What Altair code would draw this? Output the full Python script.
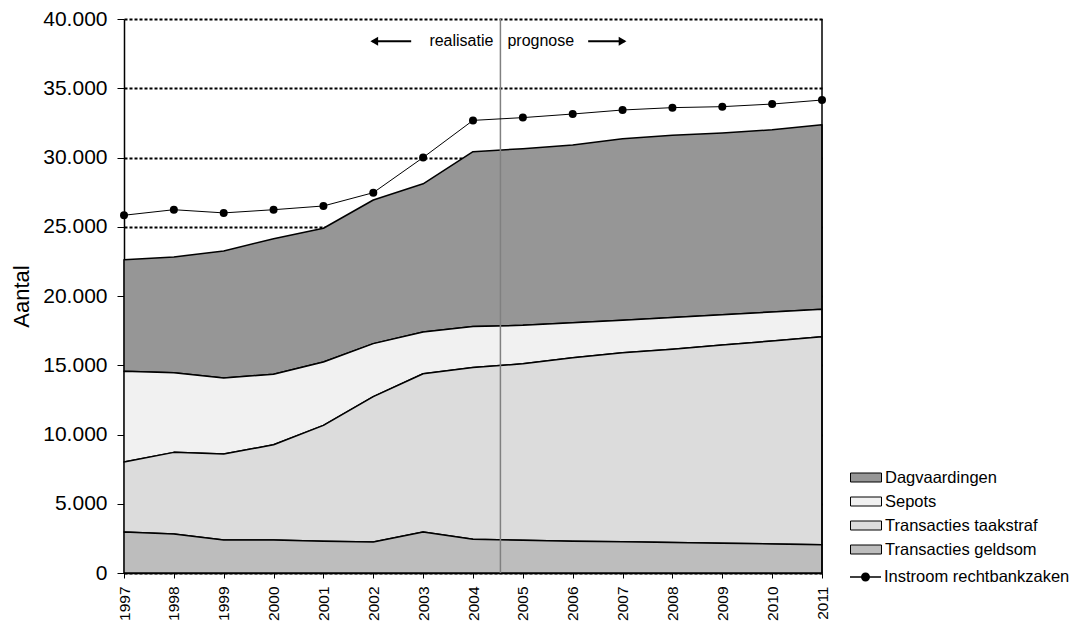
import altair as alt
import pandas as pd

# ---------------- data ----------------
years = list(range(1997, 2012))
dagvaardingen = [8060, 8360, 9170, 9790, 9660, 10370, 10700, 12620, 12760, 12830, 13110, 13150, 13120, 13150, 13330]
sepots = [6550, 5750, 5490, 5090, 4570, 3830, 3010, 2970, 2770, 2520, 2340, 2300, 2190, 2100, 1980]
taakstraf = [5050, 5890, 6210, 6880, 8370, 10490, 11430, 12400, 12750, 13250, 13660, 13950, 14310, 14650, 15020]
geldsom = [2960, 2820, 2380, 2380, 2290, 2240, 2960, 2430, 2360, 2300, 2250, 2200, 2150, 2100, 2040]
instroom = [25830, 26230, 26000, 26230, 26500, 27460, 30000, 32680, 32880, 33140, 33430, 33600, 33670, 33860, 34150]

series_names = ["Dagvaardingen", "Sepots", "Transacties taakstraf", "Transacties geldsom"]
series_values = [dagvaardingen, sepots, taakstraf, geldsom]
line_name = "Instroom rechtbankzaken"
y_ticks = list(range(0, 40001, 5000))
split_year = 2004.55
annot_labels = ["realisatie", "prognose"]

# ---------------- tables ----------------
rows = []
for k, (name, vals) in enumerate(zip(series_names, series_values)):
    for yr, v in zip(years, vals):
        rows.append({"jaar": yr, "serie": name, "waarde": v, "volgorde": len(series_names) - k})
area_df = pd.DataFrame(rows)
line_df = pd.DataFrame({"jaar": years, "waarde": instroom, "serie": [line_name] * len(years)})

FONT = "Liberation Sans"
fill_colors = ["#969696", "#f1f1f1", "#dcdcdc", "#bdbdbd"]
W, H = 698, 554

x_scale = alt.Scale(domain=[1997, 2011], nice=False, zero=False)
y_scale = alt.Scale(domain=[0, 40000], nice=False)

x_enc = alt.X(
    "jaar:Q",
    scale=x_scale,
    axis=alt.Axis(
        values=years, format="d", labelAngle=-90, title=None, grid=False,
        labelFontSize=15.5, labelPadding=8, tickSize=5, labelFlush=False,
        labelOverlap=False,
    ),
)
y_axis = alt.Axis(
    values=y_ticks,
    labelExpr="replace(format(datum.value, ','), ',', '.')",
    title="Aantal", titleFontSize=22, titleFontWeight="normal", titlePadding=9,
    labelFontSize=21, labelPadding=10, tickSize=7,
    grid=True, gridColor="black", gridDash=[3, 2], gridWidth=2, gridOpacity=1,
    labelFlush=False,
)

rect_path = "M-1.55,-0.45H1.55V0.45H-1.55Z"
line_dot_path = ("M-1.55,-0.07H1.55V0.07H-1.55Z "
                 "M0.45,0A0.45,0.45 0 1,1 -0.45,0A0.45,0.45 0 1,1 0.45,0Z")

LEG_X = 731.5
areas = alt.Chart(area_df).mark_area(stroke="black", strokeWidth=1.5, strokeJoin="round").encode(
    x=x_enc,
    y=alt.Y("waarde:Q", stack="zero", scale=y_scale, axis=y_axis),
    color=alt.Color(
        "serie:N",
        scale=alt.Scale(domain=series_names, range=fill_colors),
        legend=alt.Legend(
            title=None, orient="none", legendX=LEG_X, legendY=448,
            symbolType=rect_path, symbolSize=400, symbolStrokeColor="black",
            symbolStrokeWidth=1, labelFontSize=16.5, labelOffset=8.5, rowPadding=5,
            padding=0, labelColor="black", labelLimit=0,
        ),
    ),
    order=alt.Order("volgorde:Q"),
)

split_df = pd.DataFrame({"jaar": [split_year]})
split_rule = alt.Chart(split_df).mark_rule(color="#808080", strokeWidth=1.5).encode(x="jaar:Q")

right_df = pd.DataFrame({"jaar": [years[-1]]})
right_rule = alt.Chart(right_df).mark_rule(color="black", strokeWidth=1.5).encode(x="jaar:Q")

inst_line = alt.Chart(line_df).mark_line(color="black", strokeWidth=1).encode(
    x=alt.X("jaar:Q"), y=alt.Y("waarde:Q")
)
inst_pts = alt.Chart(line_df).mark_circle(color="black", size=64).encode(
    x=alt.X("jaar:Q"),
    y=alt.Y("waarde:Q"),
    opacity=alt.Opacity(
        "serie:N",
        scale=alt.Scale(domain=[line_name], range=[1, 1]),
        legend=alt.Legend(
            title=None, orient="none", legendX=LEG_X, legendY=548,
            symbolType=line_dot_path, symbolSize=400, symbolFillColor="black",
            symbolStrokeWidth=0, labelFontSize=16.5,
            labelOffset=8.5, padding=0, labelColor="black", labelLimit=0,
        ),
    ),
)

annot_y = 38400
txt_left = alt.Chart(pd.DataFrame({"jaar": [split_year], "waarde": [annot_y], "t": [annot_labels[0]]})).mark_text(
    align="right", baseline="middle", dx=-7, fontSize=16, font=FONT, color="black"
).encode(x="jaar:Q", y="waarde:Q", text="t:N")
txt_right = alt.Chart(pd.DataFrame({"jaar": [split_year], "waarde": [annot_y], "t": [annot_labels[1]]})).mark_text(
    align="left", baseline="middle", dx=7, fontSize=16, font=FONT, color="black"
).encode(x="jaar:Q", y="waarde:Q", text="t:N")

arrow_df = pd.DataFrame({
    "x1": [2001.98, 2006.31],
    "x2": [2002.76, 2007.04],
    "waarde": [annot_y, annot_y],
})
arrow_lines = alt.Chart(arrow_df).mark_rule(color="black", strokeWidth=2).encode(
    x="x1:Q", x2="x2:Q", y="waarde:Q"
)
head_left = alt.Chart(pd.DataFrame({"jaar": [2002.02], "waarde": [annot_y]})).mark_point(
    shape="triangle-left", filled=True, color="black", size=80, opacity=1
).encode(x="jaar:Q", y="waarde:Q")
head_right = alt.Chart(pd.DataFrame({"jaar": [2007.0], "waarde": [annot_y]})).mark_point(
    shape="triangle-right", filled=True, color="black", size=80, opacity=1
).encode(x="jaar:Q", y="waarde:Q")

chart = alt.layer(
    areas, split_rule, right_rule, inst_line, inst_pts,
    txt_left, txt_right, arrow_lines, head_left, head_right,
).properties(
    width=W, height=H,
    autosize=alt.AutoSizeParams(type="none"),
    padding={"left": 116, "top": 11, "right": 248, "bottom": 50},
).configure(
    font=FONT,
).configure_view(
    stroke=None,
).configure_axis(
    labelColor="black", titleColor="black", tickColor="black",
    domainColor="black", domainWidth=1.5, tickWidth=1, labelFont=FONT, titleFont=FONT,
).configure_legend(
    labelFont=FONT,
)

chart.save("out.html", embed_options={"renderer": "svg", "actions": False})
